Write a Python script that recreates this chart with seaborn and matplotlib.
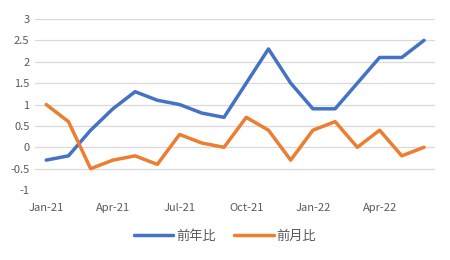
import matplotlib
matplotlib.use("Agg")
import matplotlib.pyplot as plt
import seaborn as sns
import pandas as pd

months = ["Jan-21", "Feb-21", "Mar-21", "Apr-21", "May-21", "Jun-21", "Jul-21", "Aug-21", "Sep-21",
          "Oct-21", "Nov-21", "Dec-21", "Jan-22", "Feb-22", "Mar-22", "Apr-22", "May-22", "Jun-22"]
yoy = [-0.3, -0.2, 0.4, 0.9, 1.3, 1.1, 1.0, 0.8, 0.7, 1.5, 2.3, 1.5, 0.9, 0.9, 1.5, 2.1, 2.1, 2.5]
mom = [1.0, 0.6, -0.5, -0.3, -0.2, -0.4, 0.3, 0.1, 0.0, 0.7, 0.4, -0.3, 0.4, 0.6, 0.0, 0.4, -0.2, 0.0]
series_names = ["前年比", "前月比"]
colors = ["#4472C4", "#ED7D31"]
yticks = [-1, -0.5, 0, 0.5, 1, 1.5, 2, 2.5, 3]
ytick_labels = ["-1", "-0.5", "0", "0.5", "1", "1.5", "2", "2.5", "3"]

sns.set_theme(style="white")
plt.rcParams['font.family'] = ['Noto Sans CJK JP', 'DejaVu Sans']

df = pd.DataFrame({
    "idx": list(range(len(months))) * 2,
    "value": yoy + mom,
    "series": [series_names[0]] * len(months) + [series_names[1]] * len(months),
})

fig = plt.figure(figsize=(4.5, 2.6), dpi=100)
ax = fig.add_axes([0.078, 0.269, 0.889, 0.658])
sns.lineplot(data=df, x="idx", y="value", hue="series", palette=colors, linewidth=2.5, ax=ax,
             legend=True)

ax.set_xlim(-0.5, len(months) - 0.5)
ax.set_ylim(-1, 3)
ax.set_yticks(yticks)
ax.set_yticklabels(ytick_labels)
pos = list(range(0, len(months), 3))
ax.set_xticks(pos)
ax.set_xticklabels([months[i] for i in pos])
ax.set_xlabel("")
ax.set_ylabel("")
ax.grid(axis="y", color="#D9D9D9", linewidth=0.9)
ax.set_axisbelow(True)
for s in ax.spines.values():
    s.set_visible(False)
ax.tick_params(axis="both", length=0, colors="#595959", labelsize=8, pad=4)
ax.tick_params(axis="x", pad=9)

handles, labels = ax.get_legend_handles_labels()
fig.legend(handles, labels, loc="center", bbox_to_anchor=(0.5, 1 - 236 / 260),
           ncol=2, frameon=False, fontsize=9.5, handlelength=3.0, columnspacing=1.4,
           handletextpad=0.2, labelcolor="#595959")
ax.get_legend().remove()

fig.savefig("out.png", dpi=100)
